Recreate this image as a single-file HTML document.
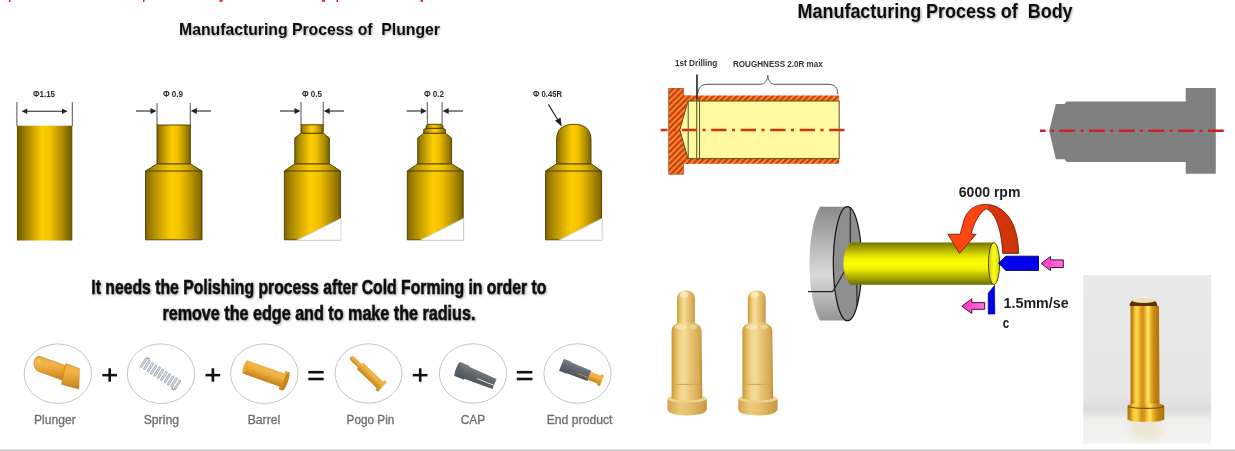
<!DOCTYPE html>
<html><head><meta charset="utf-8">
<style>
html,body{margin:0;padding:0;background:#fff;}
body{width:1235px;height:451px;overflow:hidden;position:relative;font-family:"Liberation Sans",sans-serif;}
svg{position:absolute;left:0;top:0;}

</style></head>
<body>
<svg style="will-change:transform" width="1235" height="451" viewBox="0 0 1235 451">
<defs>
  <linearGradient id="g1" x1="0" x2="1" y1="0" y2="0">
    <stop offset="0" stop-color="#6a5700"/><stop offset="0.1" stop-color="#8c7300"/>
    <stop offset="0.28" stop-color="#c9a200"/><stop offset="0.46" stop-color="#ffcf00"/>
    <stop offset="0.6" stop-color="#f2c200"/><stop offset="0.8" stop-color="#b58f00"/>
    <stop offset="0.93" stop-color="#826a00"/><stop offset="1" stop-color="#675500"/>
  </linearGradient>
  <linearGradient id="g2" x1="0" x2="1" y1="0" y2="0">
    <stop offset="0" stop-color="#806800"/><stop offset="0.12" stop-color="#a88800"/>
    <stop offset="0.3" stop-color="#d8ae00"/><stop offset="0.46" stop-color="#ffcc00"/>
    <stop offset="0.62" stop-color="#f0c000"/><stop offset="0.82" stop-color="#b89200"/>
    <stop offset="0.94" stop-color="#8e7200"/><stop offset="1" stop-color="#7a6200"/>
  </linearGradient>
  <pattern id="hatch" patternUnits="userSpaceOnUse" width="4.2" height="4.2" patternTransform="rotate(45)">
    <rect width="4.2" height="4.2" fill="#fb8a3a"/>
    <rect width="2.3" height="4.2" fill="#c94206"/>
  </pattern>
  <linearGradient id="chuckSide" x1="0" x2="0" y1="0" y2="1">
    <stop offset="0" stop-color="#8a8a8a"/><stop offset="0.6" stop-color="#dadada"/>
    <stop offset="1" stop-color="#949494"/>
  </linearGradient>
  <linearGradient id="ycyl" x1="0" x2="0" y1="0" y2="1">
    <stop offset="0" stop-color="#747400"/><stop offset="0.18" stop-color="#b4b400"/>
    <stop offset="0.36" stop-color="#eeee00"/><stop offset="0.5" stop-color="#ffff08"/>
    <stop offset="0.64" stop-color="#ecec00"/><stop offset="0.82" stop-color="#acac00"/>
    <stop offset="1" stop-color="#6c6c00"/>
  </linearGradient>
  <linearGradient id="yend" x1="0" x2="1" y1="0" y2="0">
    <stop offset="0" stop-color="#c8c800"/><stop offset="0.5" stop-color="#ffff20"/><stop offset="1" stop-color="#d0d000"/>
  </linearGradient>
  <linearGradient id="redarr" x1="0" x2="1" y1="0" y2="0">
    <stop offset="0" stop-color="#ff4a12"/><stop offset="0.56" stop-color="#ff400e"/>
    <stop offset="0.57" stop-color="#d8380e"/><stop offset="1" stop-color="#cc330a"/>
  </linearGradient>
  <linearGradient id="pink" x1="0" x2="1" y1="0" y2="0">
    <stop offset="0" stop-color="#ff3cc8"/><stop offset="1" stop-color="#ff70d8"/>
  </linearGradient>
  <linearGradient id="pgold" x1="0" x2="1" y1="0" y2="0">
    <stop offset="0" stop-color="#c49438"/><stop offset="0.1" stop-color="#dcb254"/>
    <stop offset="0.28" stop-color="#f2d48a"/><stop offset="0.42" stop-color="#f4dc9a"/>
    <stop offset="0.6" stop-color="#e8c676"/><stop offset="0.8" stop-color="#dcb460"/>
    <stop offset="0.92" stop-color="#d2a64c"/><stop offset="1" stop-color="#b88836"/>
  </linearGradient>
  <linearGradient id="pgold2" x1="0" x2="1" y1="0" y2="0">
    <stop offset="0" stop-color="#d4a448"/><stop offset="0.3" stop-color="#ecc878"/>
    <stop offset="0.6" stop-color="#e4bc68"/><stop offset="1" stop-color="#c89640"/>
  </linearGradient>
  <linearGradient id="rgold" x1="0" x2="1" y1="0" y2="0">
    <stop offset="0" stop-color="#b87408"/><stop offset="0.08" stop-color="#cc8a14"/>
    <stop offset="0.15" stop-color="#f4c838"/><stop offset="0.23" stop-color="#ffd84a"/>
    <stop offset="0.3" stop-color="#f0c030"/><stop offset="0.38" stop-color="#d49018"/>
    <stop offset="0.47" stop-color="#d89a20"/><stop offset="0.55" stop-color="#f8d048"/>
    <stop offset="0.62" stop-color="#ffe060"/><stop offset="0.7" stop-color="#e8b028"/>
    <stop offset="0.8" stop-color="#c88a14"/><stop offset="1" stop-color="#b07008"/>
  </linearGradient>
  <linearGradient id="photobg" x1="0" x2="0" y1="0" y2="1">
    <stop offset="0" stop-color="#e9e9e9"/><stop offset="0.72" stop-color="#e6e6e6"/>
    <stop offset="0.8" stop-color="#dcdcdc"/><stop offset="0.86" stop-color="#efefed"/>
    <stop offset="1" stop-color="#f3f3f1"/>
  </linearGradient>
  <linearGradient id="ogold" x1="0" x2="0" y1="0" y2="1">
    <stop offset="0" stop-color="#eeae40"/><stop offset="0.3" stop-color="#f2b44a"/>
    <stop offset="0.6" stop-color="#e2a030"/><stop offset="1" stop-color="#c08020"/>
  </linearGradient>
  <linearGradient id="gray3" x1="0" x2="0" y1="0" y2="1">
    <stop offset="0" stop-color="#7a8088"/><stop offset="0.4" stop-color="#626870"/>
    <stop offset="1" stop-color="#4c5258"/>
  </linearGradient>
  <filter id="blur3" x="-50%" y="-50%" width="200%" height="200%"><feGaussianBlur stdDeviation="3"/></filter>
  <filter id="tshadow" x="-5%" y="-30%" width="110%" height="160%">
    <feGaussianBlur in="SourceAlpha" stdDeviation="0.8"/>
    <feOffset dx="1" dy="1.2" result="b"/>
    <feComponentTransfer><feFuncA type="linear" slope="0.35"/></feComponentTransfer>
    <feMerge><feMergeNode/><feMergeNode in="SourceGraphic"/></feMerge>
  </filter>
</defs>

<!-- red text remnants at top -->
<g fill="#ff1a1a">
  <rect x="9" y="0" width="1.5" height="2"/>
  <rect x="143" y="0" width="1.5" height="2"/>
  <rect x="219.5" y="0" width="3" height="1.8"/>
  <rect x="322" y="0" width="3" height="1.8"/>
  <rect x="336.5" y="0" width="1.5" height="2"/>
  <rect x="420.5" y="0" width="2.5" height="1.8"/>
</g>

<!-- Titles -->
<g font-family="Liberation Sans" font-weight="bold" fill="#111" filter="url(#tshadow)">
  <text x="179" y="35.4" font-size="17" textLength="261" lengthAdjust="spacingAndGlyphs">Manufacturing Process of&#160; Plunger</text>
  <text x="797.6" y="18.1" font-size="19.5" textLength="275" lengthAdjust="spacingAndGlyphs">Manufacturing Process of&#160; Body</text>
</g>

<!-- ===== Plunger process shapes ===== -->
<g font-family="Liberation Sans" font-size="8.6" font-weight="bold" fill="#2a2a2a">
  <text x="33" y="97" textLength="22" lengthAdjust="spacingAndGlyphs">Φ1.15</text>
  <text x="163" y="97" textLength="20" lengthAdjust="spacingAndGlyphs">Φ 0.9</text>
  <text x="302" y="97" textLength="20" lengthAdjust="spacingAndGlyphs">Φ 0.5</text>
  <text x="424" y="97" textLength="20" lengthAdjust="spacingAndGlyphs">Φ 0.2</text>
  <text x="533" y="97" textLength="29" lengthAdjust="spacingAndGlyphs">Φ 0.45R</text>
</g>
<g stroke="#555" stroke-width="1" fill="none">
  <line x1="16.9" y1="102" x2="16.9" y2="126"/><line x1="72.3" y1="102" x2="72.3" y2="126"/>
  <line x1="157" y1="103" x2="157" y2="125"/><line x1="190.3" y1="103" x2="190.3" y2="125"/>
  <line x1="301" y1="102" x2="301" y2="125"/><line x1="323.2" y1="102" x2="323.2" y2="125"/>
  <line x1="427.3" y1="102" x2="427.3" y2="125"/><line x1="442.1" y1="102" x2="442.1" y2="125"/>
</g>
<g stroke="#222" stroke-width="1.1" fill="#222">
  <line x1="24" y1="111.3" x2="65" y2="111.3"/>
  <path d="M21.6 111.3 L27.2 108.6 L27.2 114Z" stroke="none"/>
  <path d="M67.6 111.3 L62 108.6 L62 114Z" stroke="none"/>
  <line x1="136" y1="111" x2="152" y2="111"/>
  <path d="M156.5 111 L150.5 108 L150.5 114Z" stroke="none"/>
  <line x1="195" y1="111" x2="211" y2="111"/>
  <path d="M190.8 111 L196.8 108 L196.8 114Z" stroke="none"/>
  <line x1="280" y1="111" x2="296" y2="111"/>
  <path d="M300.5 111 L294.5 108 L294.5 114Z" stroke="none"/>
  <line x1="328" y1="111" x2="344" y2="111"/>
  <path d="M323.7 111 L329.7 108 L329.7 114Z" stroke="none"/>
  <line x1="406.6" y1="111" x2="423" y2="111"/>
  <path d="M426.8 111 L420.8 108 L420.8 114Z" stroke="none"/>
  <line x1="447" y1="111" x2="463" y2="111"/>
  <path d="M442.6 111 L448.6 108 L448.6 114Z" stroke="none"/>
  <line x1="548.4" y1="104.4" x2="558.5" y2="121"/>
  <path d="M561.7 126.6 L555 120.6 L560.6 117.8Z" stroke="none"/>
</g>

<!-- shape 1 -->
<rect x="16.9" y="125.7" width="55.4" height="114.8" fill="url(#g1)"/>
<!-- shape 2 -->
<g stroke="#4a3c00" stroke-width="0.9">
  <path d="M145.5 171 L157 163.8 L190.3 163.8 L202 171 L202 239.8 L145.5 239.8Z" fill="url(#g2)"/>
  <rect x="157" y="125" width="33.3" height="38.8" fill="url(#g2)"/>
</g>
<!-- shape 3 -->
<g stroke="#4a3c00" stroke-width="0.9">
  <path d="M284.4 171 L294.8 163.8 L329.4 163.8 L340.5 171 L340.5 239.8 L284.4 239.8Z" fill="url(#g2)"/>
  <path d="M294.8 163.8 L294.8 138 L301 133.2 L323.2 133.2 L329.4 138 L329.4 163.8Z" fill="url(#g2)"/>
  <rect x="301" y="124.8" width="22.2" height="8.4" fill="url(#g2)"/>
  <path d="M296.6 240.3 L341 218.3 L341 240.3Z" fill="#fff" stroke="#ccc" stroke-width="0.8"/>
</g>
<!-- shape 4 -->
<g stroke="#4a3c00" stroke-width="0.9">
  <path d="M407.3 171 L417.7 163.8 L451.6 163.8 L463.2 171 L463.2 239.8 L407.3 239.8Z" fill="url(#g2)"/>
  <path d="M417.7 163.8 L417.7 138 L423.7 133.2 L445.4 133.2 L451.6 138 L451.6 163.8Z" fill="url(#g2)"/>
  <path d="M423.7 133.2 L423.7 129.5 L426 128.3 L443 128.3 L445.4 129.5 L445.4 133.2Z" fill="url(#g2)"/>
  <path d="M426 128.3 L426 126 L428 124.3 L441 124.3 L443 126 L443 128.3Z" fill="url(#g2)"/>
  <path d="M420 240.3 L463.7 218.3 L463.7 240.3Z" fill="#fff" stroke="#ccc" stroke-width="0.8"/>
</g>
<!-- shape 5 -->
<g stroke="#4a3c00" stroke-width="0.9">
  <path d="M545.5 171 L556.6 163.8 L591 163.8 L601.6 171 L601.6 239.8 L545.5 239.8Z" fill="url(#g2)"/>
  <path d="M556.6 163.8 L556.6 140 C556.6 130 562 124.3 573.8 124.3 C585.6 124.3 591 130 591 140 L591 163.8Z" fill="url(#g2)"/>
  <path d="M558.8 240.3 L602.1 218.3 L602.1 240.3Z" fill="#fff" stroke="#ccc" stroke-width="0.8"/>
</g>

<g stroke="#4a3c00" stroke-width="1">
  <line x1="145.5" y1="171" x2="202" y2="171"/>
  <line x1="284.4" y1="171" x2="340.5" y2="171"/>
  <line x1="407.3" y1="171" x2="463.2" y2="171"/>
  <line x1="545.5" y1="171" x2="601.6" y2="171"/>
</g>
<!-- Polishing text -->
<g font-family="Liberation Sans" font-weight="bold" fill="#111" filter="url(#tshadow)">
  <text x="91.3" y="293.8" font-size="20" stroke="#111" stroke-width="0.55" textLength="455" lengthAdjust="spacingAndGlyphs">It needs the Polishing process after Cold Forming in order to</text>
  <text x="162.4" y="320" font-size="20" stroke="#111" stroke-width="0.55" textLength="313" lengthAdjust="spacingAndGlyphs">remove the edge and to make the radius.</text>
</g>

<!-- circles row -->
<g fill="none" stroke="#c4c4c4" stroke-width="1">
  <ellipse cx="57.9" cy="373.7" rx="33.7" ry="29.8"/>
  <ellipse cx="161" cy="373.7" rx="33.7" ry="29.8"/>
  <ellipse cx="264.3" cy="373.7" rx="33.7" ry="29.8"/>
  <ellipse cx="368.5" cy="373.5" rx="33.4" ry="29.7"/>
  <ellipse cx="473" cy="373.5" rx="33.6" ry="29.7"/>
  <ellipse cx="577.5" cy="373.5" rx="33.6" ry="29.7"/>
</g>
<g fill="#111">
  <rect x="102.3" y="373.9" width="14.7" height="2.5"/><rect x="108.4" y="368.3" width="2.6" height="13.4"/>
  <rect x="205.5" y="373.9" width="14.7" height="2.5"/><rect x="211.6" y="368.3" width="2.6" height="13.4"/>
  <rect x="412.8" y="373.9" width="14.7" height="2.5"/><rect x="418.9" y="368.3" width="2.6" height="13.4"/>
  <rect x="308.3" y="370.9" width="15.4" height="2.6"/><rect x="308.3" y="377.7" width="15.4" height="2.6"/>
  <rect x="516.8" y="370.9" width="15.6" height="2.6"/><rect x="516.8" y="377.7" width="15.6" height="2.6"/>
</g>
<g font-family="Liberation Sans" font-size="12" fill="#6e6e6e" stroke="#6e6e6e" stroke-width="0.3">
  <text x="34" y="423.7" textLength="41.7" lengthAdjust="spacingAndGlyphs">Plunger</text>
  <text x="143.7" y="423.7" textLength="35.3" lengthAdjust="spacingAndGlyphs">Spring</text>
  <text x="247.7" y="423.7" textLength="32.5" lengthAdjust="spacingAndGlyphs">Barrel</text>
  <text x="346.6" y="423.7" textLength="47.8" lengthAdjust="spacingAndGlyphs">Pogo Pin</text>
  <text x="460.7" y="423.7" textLength="24.6" lengthAdjust="spacingAndGlyphs">CAP</text>
  <text x="546.7" y="423.7" textLength="65.8" lengthAdjust="spacingAndGlyphs">End product</text>
</g>

<!-- icon: plunger -->
<g stroke="#b87818" stroke-width="0.5">
  <path d="M67 366.1 L40.5 356.6 C35.5 355 32.8 361 34.3 366 C35 368.8 36.2 370.6 38.5 371.4 L64.5 381.1 Z" fill="url(#ogold)"/>
  <path d="M65.9 363.5 L79.4 368.5 L78.9 389 L61.5 384.4 Z" fill="url(#ogold)"/>
</g>
<ellipse cx="39" cy="361" rx="1.8" ry="1.4" fill="#f8cc70"/>
<!-- icon: spring -->
<g transform="translate(160.5,373.8) rotate(33)" fill="none" stroke-linecap="round">
  <path d="M-20.2 -4.4 Q-20.5 -7 -17.5 -6.2 M20.2 4.4 Q20.5 7 17.5 6.2" stroke="#98a4b2" stroke-width="1.5"/>
  <path d="M-20.20 -4.4 L-20.20 4.4 M-16.16 -4.4 L-16.16 4.4 M-12.12 -4.4 L-12.12 4.4 M-8.08 -4.4 L-8.08 4.4 M-4.04 -4.4 L-4.04 4.4 M0.00 -4.4 L0.00 4.4 M4.04 -4.4 L4.04 4.4 M8.08 -4.4 L8.08 4.4 M12.12 -4.4 L12.12 4.4 M16.16 -4.4 L16.16 4.4 M20.20 -4.4 L20.20 4.4 " stroke="#9aa6b4" stroke-width="2.5"/>
  <path d="M-20.20 -4.4 L-20.20 4.4 M-16.16 -4.4 L-16.16 4.4 M-12.12 -4.4 L-12.12 4.4 M-8.08 -4.4 L-8.08 4.4 M-4.04 -4.4 L-4.04 4.4 M0.00 -4.4 L0.00 4.4 M4.04 -4.4 L4.04 4.4 M8.08 -4.4 L8.08 4.4 M12.12 -4.4 L12.12 4.4 M16.16 -4.4 L16.16 4.4 M20.20 -4.4 L20.20 4.4 " stroke="#e2e8ee" stroke-width="0.9"/>
</g>
<!-- icon: barrel -->
<g transform="translate(265,374) rotate(19.5)">
  <rect x="-21" y="-7" width="40" height="14" fill="url(#ogold)"/>
  <ellipse cx="-21" cy="0" rx="1.8" ry="7" fill="#eaa838"/>
  <rect x="18" y="-9.8" width="4" height="19.6" fill="url(#ogold)"/>
  <ellipse cx="22" cy="0" rx="2.2" ry="9.8" fill="#c48420"/>
</g>
<!-- icon: pogo pin -->
<g transform="translate(366.5,372) rotate(43.5)">
  <rect x="-22" y="-2.6" width="15" height="5.2" rx="2.6" fill="url(#ogold)"/>
  <rect x="-9" y="-4.5" width="28" height="9" rx="1" fill="url(#ogold)"/>
  <rect x="18.5" y="-6.5" width="3.2" height="13" fill="url(#ogold)"/>
</g>
<!-- icon: cap -->
<g transform="translate(476,376.5) rotate(22)">
  <path d="M-20 -7.5 L-10 -7.5 L-10 -6.5 L20 -5.5 L20 5.5 L-10 6.5 L-10 7.5 L-20 7.5 Z" fill="url(#gray3)"/>
  <ellipse cx="-20" cy="0" rx="1.5" ry="7.5" fill="#5a6068"/>
  <line x1="2" y1="1.5" x2="20" y2="1.5" stroke="#f2f2f2" stroke-width="1"/>
</g>
<!-- icon: end product -->
<g transform="translate(581,372.5) rotate(21.5)">
  <path d="M-21 -6.5 L-13 -6.5 L-13 -6 L9 -5.5 L9 5.5 L-13 6 L-13 6.5 L-21 6.5 Z" fill="url(#gray3)"/>
  <rect x="9" y="-4.3" width="12" height="8.6" fill="url(#ogold)"/>
  <rect x="19.5" y="-5.8" width="3" height="11.6" fill="url(#ogold)"/>
  <line x1="-2" y1="2" x2="9" y2="2" stroke="#c89030" stroke-width="0.8"/>
</g>

<!-- ===== Body diagram ===== -->
<g font-family="Liberation Sans" font-weight="bold" font-size="9.2" fill="#333">
  <text x="674.9" y="65.8" textLength="42.4" lengthAdjust="spacingAndGlyphs">1st Drilling</text>
  <text x="733" y="67.1" textLength="89.8" lengthAdjust="spacingAndGlyphs">ROUGHNESS 2.0R max</text>
</g>
<path d="M697.8 94 C698 88 701 84.3 708 84.3 L760.5 84.3 C765 84.3 767.5 80 767.8 75.3 C768.1 80 770.6 84.3 775 84.3 L828 84.3 C835 84.3 837.8 88 837.8 94" fill="none" stroke="#555" stroke-width="1"/>
<g>
  <rect x="668.7" y="88.3" width="14.7" height="85.9" fill="url(#hatch)" stroke="#a83a08" stroke-width="0.6"/>
  <rect x="683" y="95.5" width="156.2" height="5.8" fill="url(#hatch)"/>
  <rect x="683" y="158" width="156.2" height="5.8" fill="url(#hatch)"/>
  <rect x="682" y="95.5" width="8" height="68.3" fill="url(#hatch)"/>
  <path d="M688 101 L839.2 101 L839.2 158.6 L688 158.6 L679.8 130 Z" fill="#fff9a2" stroke="#5a3a10" stroke-width="0.9"/>
  <g stroke="#5e5e2a" stroke-width="1.1">
    <line x1="688.2" y1="101" x2="688.2" y2="158"/>
    <line x1="696.7" y1="99" x2="696.7" y2="159.5"/>
    <line x1="699.5" y1="99" x2="699.5" y2="159.5"/>
  </g>
  <line x1="697" y1="74.6" x2="697" y2="99" stroke="#222" stroke-width="1.6"/>
  <line x1="660.7" y1="130" x2="846" y2="130" stroke="#cc3510" stroke-width="2.4" stroke-dasharray="15.3 5.5 3 5.7" stroke-dashoffset="8.5"/>
</g>

<!-- gray body -->
<path d="M1049.2 130.7 L1055.8 104 L1064.6 104 L1066.5 101.4 L1185.7 101.4 L1185.7 88.1 L1215.8 88.1 L1215.8 173.8 L1185.7 173.8 L1185.7 161.9 L1066.5 161.9 L1064.6 159.2 L1055.8 159.2 Z" fill="#808080"/>
<line x1="1040" y1="130.7" x2="1224.4" y2="130.7" stroke="#cc1f2a" stroke-width="2.4" stroke-dasharray="16 5.2 3 5.5" stroke-dashoffset="10.4"/>

<!-- ===== Lathe ===== -->
<path d="M848 206.7 L820 206.7 C806 230 806 297 820 320.6 L848 320.6 Z" fill="url(#chuckSide)"/>
<ellipse cx="847.5" cy="263.7" rx="14.2" ry="57" fill="#8e8e8e" stroke="#151515" stroke-width="1.2"/>
<g stroke="#222" stroke-width="1.1" fill="none">
  <polyline points="808,291.6 832.6,291.6 844.6,271.3"/>
  <line x1="850.3" y1="207" x2="850.3" y2="243"/>
  <line x1="856.8" y1="284" x2="857" y2="306"/>
</g>
<path d="M851 242.5 L994 242.5 L994 284.7 L851 284.7 C845 280 843.5 270 843.5 263.6 C843.5 257 845 247 851 242.5 Z" fill="url(#ycyl)"/>
<ellipse cx="994" cy="263.6" rx="5.6" ry="20.8" fill="url(#yend)" stroke="#3a3a00" stroke-width="0.9"/>

<path d="M1018.6 253.4 C1018.5 235 1013 211 991.9 205.1 C980 202.5 968 207 964 220 L960.2 234.2 L947.9 234.2 L959.5 253.4 L976.1 234.2 L971 234.2 C974 223 979 213 986.2 208.7 C996 213 1001.5 230 1002.7 253.4 Z" fill="url(#redarr)" stroke="#5a1800" stroke-width="0.8"/>
<g font-family="Liberation Sans" font-weight="bold" fill="#222">
  <text x="958.8" y="196.6" font-size="14.5" textLength="61.6" lengthAdjust="spacingAndGlyphs">6000 rpm</text>
  <text x="1003.5" y="307.7" font-size="14" textLength="65.2" lengthAdjust="spacingAndGlyphs">1.5mm/se</text>
  <text x="1002.7" y="328.2" font-size="14" textLength="6.5" lengthAdjust="spacingAndGlyphs">c</text>
</g>
<path d="M998.5 263.2 L1005.9 256.2 L1038.5 256.2 L1038.5 270.4 L1005.9 270.4 Z" fill="#0000ee" stroke="#000050" stroke-width="0.9"/>
<path d="M994.5 285.3 L988.2 293.3 L988.2 314.1 L994.9 314.1 Z" fill="#0000ee" stroke="#000050" stroke-width="0.6"/>
<path d="M1041.2 263.5 L1050.5 256.5 L1050.5 259.9 L1063.3 259.9 L1063.3 267.5 L1050.5 267.5 L1050.5 270.6 Z" fill="url(#pink)" stroke="#330030" stroke-width="0.9"/>
<path d="M961.9 306.2 L971.8 298.8 L971.8 302.6 L984.7 302.6 L984.7 309.3 L971.8 309.3 L971.8 313.5 Z" fill="url(#pink)" stroke="#330030" stroke-width="0.9"/>

<!-- ===== Two gold pins (photo) ===== -->
<g id="pinA">
  <path d="M667.4 399 L667.4 409 C667.4 413.5 676 415.4 687 415.4 C698 415.4 706.8 413.5 706.8 409 L706.8 399 Z" fill="url(#pgold2)"/>
  <ellipse cx="687.1" cy="398.8" rx="19.7" ry="3.8" fill="#eed292"/>
  <path d="M677.1 326 L677.1 299 C677.1 293 681 290.5 686 290.5 C691 290.5 694.8 293 694.8 299 L694.8 326 Z" fill="url(#pgold)"/>
  <path d="M671.6 398 L671.6 331 C671.6 325.5 676 322.2 686.5 322.2 C697 322.2 701.5 325.5 701.5 331 L702.3 398 C699 401.2 675 401.2 671.6 398 Z" fill="url(#pgold)"/>
  <path d="M672 384.4 L702.3 384.4" stroke="#c8a050" stroke-width="0.9"/>
  <ellipse cx="684" cy="295" rx="4.5" ry="3" fill="#fff6d8" opacity="0.55"/>
  <ellipse cx="681" cy="327" rx="6" ry="2.6" fill="#fff2cc" opacity="0.5"/>
  <ellipse cx="693" cy="327" rx="4" ry="2.4" fill="#fff2cc" opacity="0.4"/>
</g>
<use href="#pinA" transform="translate(70.8,0)"/>

<!-- ===== Photo right ===== -->
<rect x="1083.2" y="275" width="127.9" height="168.5" fill="url(#photobg)"/>
<ellipse cx="1146" cy="430" rx="18" ry="10" fill="#ebe2cc" opacity="0.7" filter="url(#blur3)"/>
<path d="M1130.5 405 L1130.5 306 L1159 306 L1159.5 405 Z" fill="url(#rgold)"/>
<path d="M1129.6 306 C1129.6 303 1131 301.5 1133 300.5 C1136 298.8 1151 298.8 1154 300.5 C1156 301.5 1157.3 303 1157.3 306 Z" fill="#5a3204"/>
<ellipse cx="1143.7" cy="300.5" rx="11.5" ry="2.4" fill="#efe0b8"/>
<path d="M1127.5 406 L1127.5 419 C1127.5 421 1135 421.8 1146 421.8 C1157 421.8 1164.3 421 1164.3 419 L1164.3 406 C1164.3 404 1157 403.5 1146 403.5 C1135 403.5 1127.5 404 1127.5 406 Z" fill="url(#rgold)"/>
<path d="M1127.8 406.5 C1135 409 1157 409 1164 406.5" fill="none" stroke="#7a4a08" stroke-width="1.2"/>

<!-- bottom line -->
<rect x="0" y="449.6" width="1235" height="1.4" fill="#c2c2c2"/>
</svg>
</body></html>
